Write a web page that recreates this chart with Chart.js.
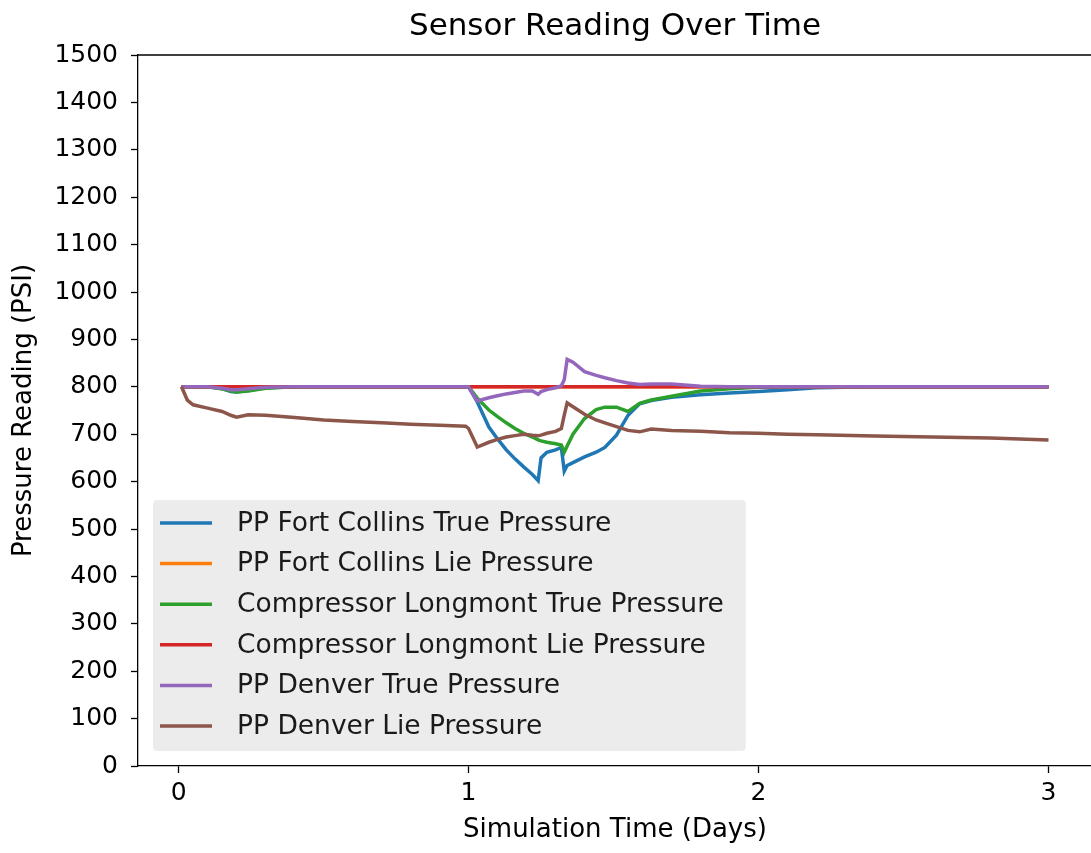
<!DOCTYPE html>
<html>
<head>
<meta charset="utf-8">
<script src="https://cdn.jsdelivr.net/npm/chart.js@4.4.1/dist/chart.umd.min.js"></script>
<style>
    html, body { margin: 0; padding: 0; background: #fff; overflow: hidden; }
    canvas { display: block; }
</style>
</head>
<body>
<canvas id="sensorChart" width="1100" height="853" style="width:1100px;height:853px"></canvas>
<script>
const chartTitle = 'Sensor Reading Over Time';
const xTitle = 'Simulation Time (Days)';
const yTitle = 'Pressure Reading (PSI)';

const timeDays = [
    0.01, 0.03, 0.05, 0.10, 0.15, 0.18, 0.20, 0.24, 0.30, 0.40,
    0.50, 0.60, 0.70, 0.80, 0.90, 0.99, 1.00, 1.03, 1.07, 1.10,
    1.13, 1.16, 1.19, 1.22, 1.24, 1.25, 1.27, 1.30, 1.32, 1.33,
    1.34, 1.36, 1.40, 1.44, 1.47, 1.51, 1.55, 1.59, 1.63, 1.70,
    1.80, 1.90, 2.00, 2.10, 2.20, 2.40, 2.60, 2.80, 2.90, 3.00
];

const seriesLabels = [
    'PP Fort Collins True Pressure',
    'PP Fort Collins Lie Pressure',
    'Compressor Longmont True Pressure',
    'Compressor Longmont Lie Pressure',
    'PP Denver True Pressure',
    'PP Denver Lie Pressure'
];
const seriesColors = ['#1f77b4', '#ff7f0e', '#2ca02c', '#d62728', '#9467bd', '#8c564b'];

const fortCollinsTrue = [
    800, 800, 800, 800, 796, 790, 789, 792, 798, 800,
    800, 800, 800, 800, 800, 800, 800, 768, 715, 690,
    667, 648, 631, 615, 602, 650, 662, 667, 672, 622,
    634, 640, 652, 662, 672, 698, 740, 764, 771, 778,
    783, 787, 790, 794, 798, 800, 800, 800, 800, 800
];
const fortCollinsLie = [
    800, 800, 800, 800, 800, 800, 800, 800, 800, 800,
    800, 800, 800, 800, 800, 800, 800, 800, 800, 800,
    800, 800, 800, 800, 800, 800, 800, 800, 800, 800,
    800, 800, 800, 800, 800, 800, 800, 800, 800, 800,
    800, 800, 800, 800, 800, 800, 800, 800, 800, 800
];
const longmontTrue = [
    800, 800, 800, 800, 796, 791, 789, 791, 797, 800,
    800, 800, 800, 800, 800, 800, 800, 776, 751, 737,
    724, 712, 702, 694, 688, 686, 683, 680, 677, 662,
    675, 700, 733, 752, 757, 757, 748, 765, 772, 780,
    791, 796, 799, 800, 800, 800, 800, 800, 800, 800
];
const longmontLie = [
    800, 800, 800, 800, 800, 800, 800, 800, 800, 800,
    800, 800, 800, 800, 800, 800, 800, 800, 800, 800,
    800, 800, 800, 800, 800, 800, 800, 800, 800, 800,
    800, 800, 800, 800, 800, 800, 800, 800, 800, 800,
    800, 800, 800, 800, 800, 800, 800, 800, 800, 800
];
const denverTrue = [
    800, 800, 800, 800, 797, 794, 794, 796, 799, 800,
    800, 800, 800, 800, 800, 800, 800, 770, 777, 781,
    785, 788, 791, 791, 784, 790, 794, 798, 802, 815,
    858, 852, 832, 824, 819, 813, 808, 805, 806, 806,
    801, 800, 800, 800, 800, 800, 800, 800, 800, 800
];
const denverLie = [
    800, 772, 762, 755, 748, 740, 736, 741, 740, 735,
    730, 727, 724, 721, 719, 717, 712, 673, 683, 689,
    694, 697, 700, 698, 697, 698, 702, 706, 712, 740,
    766, 758, 742, 730, 724, 716, 708, 705, 711, 708,
    706, 703, 702, 700, 699, 696, 694, 692, 690, 688
];

const seriesValues = [fortCollinsTrue, fortCollinsLie, longmontTrue, longmontLie, denverTrue, denverLie];
const xTickValues = [0, 1, 2, 3];

const fontFamily = '"DejaVu Sans", sans-serif';

// matplotlib look: top spine, title centred on the axes, legend inside the axes
const axesExtras = {
    id: 'axesExtras',
    afterDraw(chart) {
        const { ctx, chartArea } = chart;
        ctx.save();
        ctx.strokeStyle = '#000';
        ctx.lineWidth = 1.3;
        ctx.beginPath();
        ctx.moveTo(chartArea.left, chartArea.top);
        ctx.lineTo(chartArea.right, chartArea.top);
        ctx.stroke();

        ctx.fillStyle = '#000';
        ctx.font = '31px ' + fontFamily;
        ctx.textAlign = 'center';
        ctx.textBaseline = 'middle';
        ctx.fillText(chartTitle, (chartArea.left + chartArea.right) / 2, 27);

        ctx.font = '26.5px ' + fontFamily;
        const maxW = Math.max(...seriesLabels.map(l => ctx.measureText(l).width));
        const rowH = 40.6;
        const boxX = chartArea.left + 15;
        const boxW = 84 + maxW + 22;
        const boxH = 251;
        const boxY = chartArea.bottom - 15 - boxH;
        ctx.fillStyle = 'rgba(235,235,235,0.95)';
        ctx.beginPath();
        ctx.roundRect(boxX, boxY, boxW, boxH, 4);
        ctx.fill();

        ctx.textAlign = 'left';
        seriesLabels.forEach((label, i) => {
            const y = boxY + 23 + i * rowH;
            ctx.strokeStyle = seriesColors[i];
            ctx.lineWidth = 3.5;
            ctx.beginPath();
            ctx.moveTo(boxX + 7, y);
            ctx.lineTo(boxX + 59, y);
            ctx.stroke();
            ctx.fillStyle = '#1a1a1a';
            ctx.fillText(label, boxX + 84, y + 1);
        });
        ctx.restore();
    }
};

const datasets = seriesLabels.map((label, i) => ({
    label: label,
    data: timeDays.map((t, j) => ({ x: t, y: seriesValues[i][j] })),
    borderColor: seriesColors[i],
    backgroundColor: seriesColors[i],
    borderWidth: 3.5,
    pointRadius: 0,
    tension: 0,
    fill: false,
    order: seriesLabels.length - i
}));

new Chart(document.getElementById('sensorChart'), {
    type: 'line',
    data: { datasets: datasets },
    options: {
        responsive: false,
        animation: false,
        devicePixelRatio: 1,
        layout: { padding: { top: 55, right: 8, left: 0, bottom: 0 } },
        plugins: {
            legend: { display: false },
            title: { display: false },
            tooltip: { enabled: false }
        },
        scales: {
            x: {
                type: 'linear',
                min: -0.14,
                max: 3.15,
                afterBuildTicks: (scale) => {
                    scale.ticks = xTickValues.map(v => ({ value: v }));
                },
                afterFit: (scale) => { scale.height = 87; },
                grid: { drawOnChartArea: false, drawTicks: true, tickLength: 7, tickWidth: 1.3, tickColor: '#000' },
                border: { display: true, color: '#000', width: 1.3 },
                ticks: {
                    padding: 5,
                    color: '#000',
                    font: { family: fontFamily, size: 25 },
                    maxRotation: 0,
                    callback: (v) => String(v)
                },
                title: {
                    display: true,
                    text: xTitle,
                    color: '#000',
                    font: { family: fontFamily, size: 26 },
                    padding: { top: 0, bottom: 7 }
                }
            },
            y: {
                type: 'linear',
                min: 0,
                max: 1500,
                afterFit: (scale) => { scale.width = 138; },
                grid: { drawOnChartArea: false, drawTicks: true, tickLength: 7, tickWidth: 1.3, tickColor: '#000' },
                border: { display: true, color: '#000', width: 1.3 },
                ticks: {
                    stepSize: 100,
                    padding: 13,
                    color: '#000',
                    font: { family: fontFamily, size: 25 },
                    callback: (v) => String(v)
                },
                title: {
                    display: true,
                    text: yTitle,
                    color: '#000',
                    font: { family: fontFamily, size: 26 },
                    padding: { top: 9, bottom: 0 }
                }
            }
        }
    },
    plugins: [axesExtras]
});
</script>
</body>
</html>
